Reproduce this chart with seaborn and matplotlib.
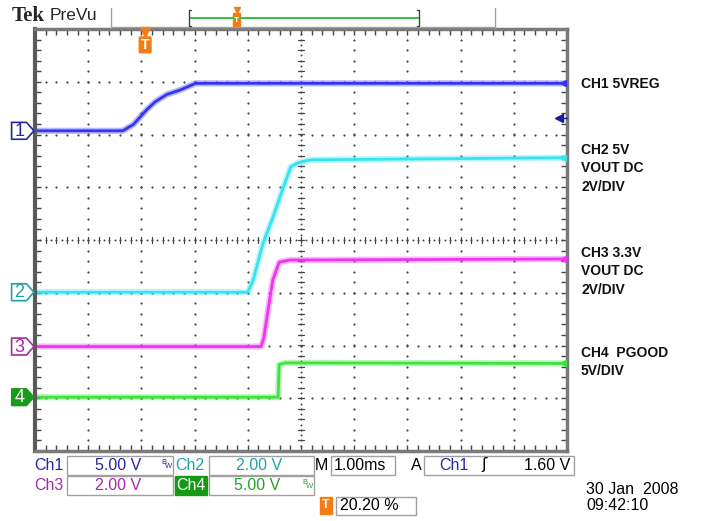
import numpy as np
import pandas as pd
import matplotlib
matplotlib.use('Agg')
import matplotlib.pyplot as plt
import seaborn as sns
from matplotlib.patches import Polygon, Rectangle, FancyBboxPatch
from matplotlib.ticker import MultipleLocator

# trace data, in divisions
# time: 0..10 div from left edge, volts: -4..4 div from centre line
ch1_t = [0, 1.65, 1.85, 2.10, 2.26, 2.48, 2.72, 2.88, 3.02, 10]
ch1_v = [2.07, 2.07, 2.19, 2.47, 2.62, 2.76, 2.84, 2.91, 2.97, 2.97]
ch2_t = [0, 4.00, 4.10, 4.29, 4.47, 4.64, 4.81, 4.94, 5.17, 10]
ch2_v = [-0.99, -0.99, -0.76, -0.05, 0.42, 0.92, 1.39, 1.46, 1.52, 1.56]
ch3_t = [0, 4.25, 4.30, 4.38, 4.47, 4.59, 4.79, 10]
ch3_v = [-2.02, -2.02, -1.86, -1.33, -0.76, -0.42, -0.38, -0.36]
ch4_t = [0, 4.57, 4.59, 4.70, 10]
ch4_v = [-2.98, -2.98, -2.36, -2.33, -2.34]

channels = ['CH1', 'CH2', 'CH3', 'CH4']
ch_offsets = [2.07, -0.99, -2.02, -2.98]   # ground reference markers
ch_final = [2.97, 1.56, -0.36, -2.34]      # right edge markers
trig_level = 2.32
trig_time = 2.07

right_labels = ['CH1 5VREG', 'CH2 5V\nVOUT DC\n2V/DIV', 'CH3 3.3V\nVOUT DC\n2V/DIV', 'CH4  PGOOD\n5V/DIV']
scale_texts = ['5.00 V', '2.00 V', '2.00 V', '5.00 V']
timebase = '1.00ms'
trig_text = '1.60 V'
pos_text = '20.20 %'
date_text = '30 Jan  2008'
time_text = '09:42:10'

# colours
trace_colors = ['#3434f2', '#36e4f0', '#f034f0', '#3de43d']
label_colors = ['#2626a8', '#1fa3a8', '#a52aa5', '#26a326']
orange = '#f57c14'

sns.set_style('white')
plt.rcParams['font.family'] = ['Liberation Sans', 'DejaVu Sans']

fig = plt.figure(figsize=(7.09, 5.21), dpi=100)
ax = fig.add_axes([35 / 709, 1 - 451 / 521, 532 / 709, 422 / 521])

# build long table for seaborn
rows = []
for name, tt, vv in zip(channels, [ch1_t, ch2_t, ch3_t, ch4_t], [ch1_v, ch2_v, ch3_v, ch4_v]):
    for t, v in zip(tt, vv):
        rows.append({'ch': name, 't': t, 'v': v})
df = pd.DataFrame(rows)
pal = dict(zip(channels, trace_colors))

# soft halo to look like noisy trace, then the core
sns.lineplot(data=df, x='t', y='v', hue='ch', palette=pal, estimator=None, sort=False,
             legend=False, lw=4.5, alpha=0.35, ax=ax)
sns.lineplot(data=df, x='t', y='v', hue='ch', palette=pal, estimator=None, sort=False,
             legend=False, lw=2.0, ax=ax)

ax.set_xlim(0, 10)
ax.set_ylim(-4, 4)
ax.set_xlabel('')
ax.set_ylabel('')

# graticule
gcol = '#444444'
fine = np.arange(0, 10.01, 0.2)
fine_y = np.arange(-4, 4.01, 0.2)
for gx in range(1, 10):
    if gx == 5:
        continue
    ax.scatter(np.full(len(fine_y), gx), fine_y, s=2.5, color=gcol, lw=0, zorder=0)
for gy in range(-3, 4):
    if gy == 0:
        continue
    ax.scatter(fine, np.full(len(fine), gy), s=2.5, color=gcol, lw=0, zorder=0)
# centre lines with cross ticks
ax.scatter(np.full(81, 5.0), np.linspace(-4, 4, 81), s=2.0, color=gcol, lw=0, zorder=0)
ax.scatter(np.linspace(0, 10, 101), np.zeros(101), s=2.0, color=gcol, lw=0, zorder=0)
for yy in fine_y:
    ax.plot([4.94, 5.06], [yy, yy], color=gcol, lw=0.9, zorder=0)
for xx in fine:
    ax.plot([xx, xx], [-0.06, 0.06], color=gcol, lw=0.9, zorder=0)

ax.xaxis.set_major_locator(MultipleLocator(1))
ax.yaxis.set_major_locator(MultipleLocator(1))
ax.xaxis.set_minor_locator(MultipleLocator(0.2))
ax.yaxis.set_minor_locator(MultipleLocator(0.2))
ax.tick_params(which='both', direction='in', top=True, right=True, bottom=True, left=True,
               length=4, width=1, color=gcol, labelbottom=False, labelleft=False)
for sp in ax.spines.values():
    sp.set_color('#7a7a7a')
    sp.set_linewidth(2.5)
ax.spines['left'].set_color('#5a5a5a')
ax.spines['left'].set_linewidth(3)

# left ground markers
for i, off in enumerate(ch_offsets):
    pts = [(-0.44, off - 0.16), (-0.16, off - 0.16), (-0.02, off), (-0.16, off + 0.16), (-0.44, off + 0.16)]
    if i == 3:
        ax.add_patch(Polygon(pts, closed=True, fc='#1a9a1a', ec='#1a9a1a', lw=1, clip_on=False, zorder=5))
        tc = 'white'
    else:
        ax.add_patch(Polygon(pts, closed=True, fc='white', ec=label_colors[i], lw=1.2, clip_on=False, zorder=5))
        tc = label_colors[i]
    ax.text(-0.29, off - 0.01, str(i + 1), color=tc, fontsize=13, ha='center', va='center',
            clip_on=False, zorder=6)

# right edge markers
for i, fv in enumerate(ch_final):
    ax.plot([9.93], [fv], marker='<', ms=4, color=trace_colors[i], clip_on=False, zorder=5)
ax.plot([9.85], [trig_level], marker='<', ms=6, color='#1a1a9a', clip_on=False, zorder=5)
ax.plot([9.85, 10], [trig_level, trig_level], color='#1a1a9a', lw=1, clip_on=False, zorder=5)

# trigger position marker
ax.plot([trig_time], [3.95], marker='v', ms=7, color=orange, clip_on=False, zorder=5)
ax.add_patch(FancyBboxPatch((trig_time - 0.09, 3.57), 0.18, 0.26, boxstyle='round,pad=0.02',
                            fc=orange, ec=orange, zorder=5))
ax.text(trig_time, 3.70, 'T', color='white', fontsize=10, fontweight='bold', ha='center', va='center', zorder=6)

# overlay in pixel coords for the scope frame text
ov = fig.add_axes([0, 0, 1, 1], zorder=10)
ov.set_xlim(0, 709)
ov.set_ylim(521, 0)
ov.axis('off')
ov.patch.set_alpha(0)

# top bar
ov.text(12, 16, 'Tek', fontsize=15, fontweight='bold', family=['Liberation Serif'], va='center')
ov.text(50, 15, 'PreVu', fontsize=12.5, va='center')
ov.plot([111, 111], [8, 28], color='#a0a0a0', lw=1)
ov.plot([495, 495], [8, 28], color='#a0a0a0', lw=1)
ov.plot([111, 495], [27, 27], color='#a0a0a0', lw=1)
ov.plot([190, 419], [18, 18], color='#44bb44', lw=1.5)
ov.plot([191, 189, 189, 191], [10, 10, 26, 26], color='#444444', lw=1)
ov.plot([417, 419, 419, 417], [10, 10, 26, 26], color='#444444', lw=1)
ov.add_patch(Rectangle((233, 13), 7, 13, fc=orange, ec=orange))
ov.plot([236.5], [10], marker='v', ms=4, color=orange)
ov.text(236.5, 20, 'T', color='white', fontsize=6, fontweight='bold', ha='center', va='center')

# right side labels
label_y = [84, 150, 253, 353]
for txt, yy in zip(right_labels, label_y):
    ov.text(581, yy - 7, txt, fontsize=10, fontweight='bold', color='#111111', va='top',
            linespacing=1.4)

# status bar
def box(x0, y0, x1, y1, fc='white', ec='#a0a0a0'):
    ov.add_patch(Rectangle((x0, y0), x1 - x0, y1 - y0, fc=fc, ec=ec, lw=1))

fs = 11.5
# row 1
ov.text(34, 465, 'Ch1', color=label_colors[0], fontsize=fs, va='center')
box(67, 456, 173, 475)
ov.text(141, 465, scale_texts[0], color=label_colors[0], fontsize=fs, va='center', ha='right')
ov.text(161, 462, 'B', color=label_colors[0], fontsize=5.5, va='center')
ov.text(165, 467, 'W', color=label_colors[0], fontsize=5.5, va='center')
ov.text(175, 465, 'Ch2', color=label_colors[1], fontsize=fs, va='center')
box(209, 456, 314, 475)
ov.text(282, 465, scale_texts[1], color=label_colors[1], fontsize=fs, va='center', ha='right')
ov.text(315, 465, 'M', color='black', fontsize=fs, va='center')
box(331, 456, 395, 475)
ov.text(334, 465, timebase, color='black', fontsize=fs, va='center')
ov.text(411, 465, 'A', color='black', fontsize=fs, va='center')
box(424, 456, 574, 475)
ov.text(439, 465, 'Ch1', color=label_colors[0], fontsize=fs, va='center')
ov.text(484, 465, 'ʃ', color='black', fontsize=fs, va='center', ha='center',
        family=['DejaVu Sans'])
ov.text(570, 465, trig_text, color='black', fontsize=fs, va='center', ha='right')
# row 2
ov.text(34, 485, 'Ch3', color=label_colors[2], fontsize=fs, va='center')
box(67, 476, 173, 495)
ov.text(141, 485, scale_texts[2], color=label_colors[2], fontsize=fs, va='center', ha='right')
box(175, 476, 207, 495, fc='#129a12', ec='#129a12')
ov.text(191, 485, 'Ch4', color='white', fontsize=fs, va='center', ha='center')
box(209, 476, 314, 495)
ov.text(280, 485, scale_texts[3], color=label_colors[3], fontsize=fs, va='center', ha='right')
ov.text(302, 482, 'B', color=label_colors[3], fontsize=5.5, va='center')
ov.text(306, 487, 'W', color=label_colors[3], fontsize=5.5, va='center')
# row 3
ov.add_patch(Rectangle((320, 497), 12, 17, fc=orange, ec=orange))
ov.text(326, 505.5, 'T', color='white', fontsize=9, fontweight='bold', ha='center', va='center')
box(336, 497, 416, 515)
ov.text(340, 506, pos_text, color='black', fontsize=fs, va='center')
ov.text(586, 490, date_text, color='black', fontsize=fs, va='center')
ov.text(586, 506, time_text, color='black', fontsize=fs, va='center')

fig.savefig('out.png', dpi=100)
